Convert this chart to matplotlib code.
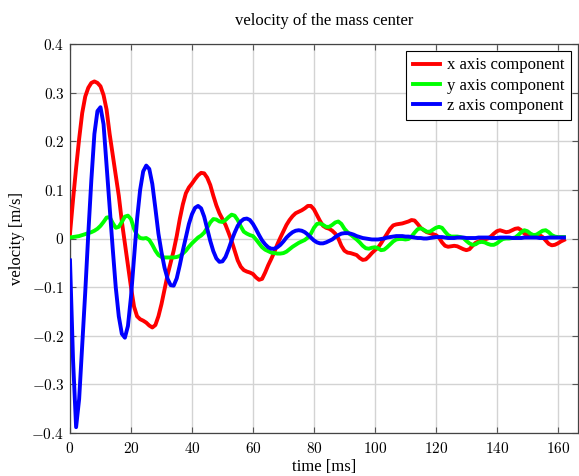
import numpy as np
import matplotlib
matplotlib.use("Agg")
import matplotlib.pyplot as plt
from matplotlib.ticker import FuncFormatter, MultipleLocator

# sample times (ms), one reading per millisecond
time_ms = np.arange(0, 163)

# x axis component of the velocity [m/s]
vel_x = [
    0.010, 0.080, 0.145, 0.205, 0.258, 0.292, 0.310, 0.320, 0.323, 0.320,
    0.313, 0.295, 0.265, 0.215, 0.172, 0.130, 0.088, 0.035, -0.010, -0.055,
    -0.100, -0.140, -0.160, -0.166, -0.169, -0.173, -0.179, -0.183, -0.178, -0.160,
    -0.135, -0.105, -0.075, -0.050, -0.025, 0.005, 0.040, 0.070, 0.093, 0.105,
    0.113, 0.122, 0.130, 0.135, 0.134, 0.125, 0.110, 0.088, 0.068, 0.052,
    0.040, 0.028, 0.012, -0.005, -0.025, -0.045, -0.058, -0.065, -0.068, -0.070,
    -0.073, -0.080, -0.085, -0.083, -0.070, -0.055, -0.042, -0.028, -0.012, 0.002,
    0.015, 0.028, 0.038, 0.046, 0.052, 0.055, 0.058, 0.062, 0.067, 0.067,
    0.060, 0.048, 0.036, 0.026, 0.022, 0.020, 0.016, 0.010, 0.000, -0.015,
    -0.025, -0.029, -0.030, -0.032, -0.034, -0.040, -0.044, -0.043, -0.037, -0.030,
    -0.024, -0.019, -0.010, 0.000, 0.010, 0.020, 0.027, 0.029, 0.030, 0.031,
    0.033, 0.035, 0.038, 0.037, 0.030, 0.022, 0.017, 0.013, 0.011, 0.009,
    0.007, 0.002, -0.008, -0.015, -0.017, -0.016, -0.015, -0.016, -0.019, -0.022,
    -0.024, -0.022, -0.015, -0.009, -0.006, -0.004, -0.002, 0.000, 0.004, 0.010,
    0.015, 0.017, 0.015, 0.013, 0.014, 0.017, 0.020, 0.021, 0.017, 0.010,
    0.007, 0.006, 0.006, 0.007, 0.007, 0.003, -0.004, -0.011, -0.014, -0.013,
    -0.010, -0.006, -0.003,
]

# y axis component of the velocity [m/s]
vel_y = [
    0.002, 0.003, 0.004, 0.005, 0.007, 0.009, 0.011, 0.013, 0.016, 0.020,
    0.026, 0.034, 0.043, 0.044, 0.032, 0.022, 0.024, 0.034, 0.045, 0.047,
    0.040, 0.020, 0.007, 0.001, 0.000, 0.001, -0.003, -0.013, -0.025, -0.034,
    -0.038, -0.039, -0.039, -0.039, -0.039, -0.038, -0.036, -0.031, -0.025, -0.017,
    -0.010, -0.004, 0.002, 0.006, 0.012, 0.022, 0.033, 0.040, 0.039, 0.035,
    0.034, 0.038, 0.044, 0.049, 0.047, 0.038, 0.025, 0.014, 0.010, 0.007,
    0.005, -0.002, -0.010, -0.018, -0.023, -0.026, -0.029, -0.030, -0.031, -0.031,
    -0.030, -0.027, -0.022, -0.017, -0.013, -0.009, -0.006, -0.003, 0.002, 0.010,
    0.022, 0.030, 0.031, 0.028, 0.024, 0.024, 0.028, 0.033, 0.035, 0.030,
    0.020, 0.013, 0.008, 0.003, -0.002, -0.008, -0.015, -0.020, -0.021, -0.019,
    -0.018, -0.020, -0.024, -0.023, -0.018, -0.012, -0.006, -0.002, -0.001, -0.001,
    -0.002, -0.001, 0.004, 0.012, 0.019, 0.021, 0.018, 0.014, 0.014, 0.018,
    0.022, 0.024, 0.022, 0.014, 0.007, 0.004, 0.004, 0.004, 0.003, 0.001,
    -0.005, -0.010, -0.013, -0.012, -0.008, -0.007, -0.008, -0.011, -0.013, -0.013,
    -0.010, -0.005, -0.001, 0.000, 0.000, 0.001, 0.002, 0.007, 0.013, 0.017,
    0.015, 0.010, 0.007, 0.008, 0.012, 0.016, 0.017, 0.013, 0.007, 0.004,
    0.003, 0.003, 0.003,
]

# z axis component of the velocity [m/s]
vel_z = [
    -0.045, -0.250, -0.388, -0.330, -0.220, -0.110, 0.010, 0.120, 0.215, 0.262,
    0.270, 0.235, 0.150, 0.065, -0.020, -0.100, -0.160, -0.196, -0.204, -0.180,
    -0.120, -0.040, 0.040, 0.100, 0.138, 0.150, 0.143, 0.112, 0.062, 0.010,
    -0.028, -0.060, -0.083, -0.096, -0.097, -0.082, -0.055, -0.025, 0.002, 0.030,
    0.050, 0.063, 0.067, 0.062, 0.045, 0.020, -0.005, -0.026, -0.041, -0.048,
    -0.047, -0.038, -0.022, -0.004, 0.012, 0.026, 0.035, 0.040, 0.041, 0.038,
    0.030, 0.019, 0.007, -0.004, -0.012, -0.018, -0.021, -0.021, -0.018, -0.013,
    -0.006, 0.002, 0.008, 0.013, 0.016, 0.017, 0.016, 0.013, 0.008, 0.002,
    -0.004, -0.008, -0.010, -0.010, -0.008, -0.005, -0.002, 0.003, 0.007, 0.010,
    0.011, 0.011, 0.010, 0.008, 0.005, 0.003, 0.001, 0.000, -0.001, -0.002,
    -0.002, -0.002, -0.001, 0.000, 0.002, 0.003, 0.004, 0.005, 0.005, 0.005,
    0.004, 0.004, 0.003, 0.002, 0.001, 0.001, 0.000, 0.000, 0.001, 0.002,
    0.003, 0.003, 0.003, 0.002, 0.001, 0.001, 0.001, 0.002, 0.002, 0.002,
    0.001, 0.001, 0.001, 0.001, 0.002, 0.002, 0.002, 0.002, 0.001, 0.001,
    0.001, 0.002, 0.002, 0.002, 0.002, 0.001, 0.001, 0.001, 0.001, 0.002,
    0.002, 0.002, 0.002, 0.002, 0.001, 0.001, 0.001, 0.002, 0.002, 0.002,
    0.002, 0.002, 0.002,
]

series = [
    (vel_x, "#ff0000", "x axis component"),
    (vel_y, "#00ff00", "y axis component"),
    (vel_z, "#0000ff", "z axis component"),
]

plt.rcParams["font.family"] = ["Liberation Serif", "DejaVu Serif"]
plt.rcParams["mathtext.fontset"] = "cm"

fig = plt.figure(figsize=(5.79, 4.76), dpi=100)
ax = fig.add_axes([70 / 579, 43 / 476, 508 / 579, 389 / 476])

for values, color, label in series:
    ax.plot(time_ms, values, color=color, lw=2.8, label=label,
            solid_joinstyle="round", zorder=3)

ax.set_xlim(0, 166.6)
ax.set_ylim(-0.4, 0.4)
ax.xaxis.set_major_locator(MultipleLocator(20))
ax.yaxis.set_major_locator(MultipleLocator(0.1))

# pgfplots-like tick labels in Computer Modern
ax.xaxis.set_major_formatter(FuncFormatter(lambda v, p: r"$%d$" % round(v)))
ax.yaxis.set_major_formatter(
    FuncFormatter(lambda v, p: r"$0$" if abs(v) < 1e-9 else r"$%.1f$" % v))

ax.grid(True, color="#d3d3d3", lw=1.0, zorder=0)
ax.tick_params(direction="in", length=4, width=0.8, color="#555555",
               top=True, right=True, labelsize=11)
ax.tick_params(axis="x", pad=6)
ax.tick_params(axis="y", pad=4)
for sp in ax.spines.values():
    sp.set_color("#444444")
    sp.set_linewidth(0.9)

ax.set_title("velocity of the mass center", fontsize=12, pad=14)
ax.set_xlabel("time [ms]", fontsize=12, labelpad=2)
ax.set_ylabel("velocity [m/s]", fontsize=12, labelpad=5)

leg = ax.legend(loc="upper right", fontsize=12, frameon=True, fancybox=False,
                framealpha=1, edgecolor="black", handlelength=1.6,
                borderaxespad=0.4, labelspacing=0.25, handletextpad=0.45,
                borderpad=0.4)
leg.get_frame().set_linewidth(0.8)

fig.savefig("out.png", dpi=100)
